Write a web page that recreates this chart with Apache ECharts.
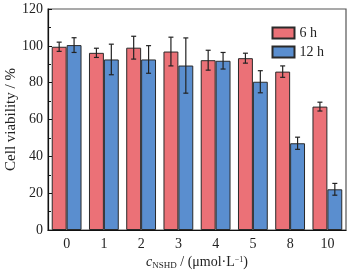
<!DOCTYPE html>
<html>
<head>
<meta charset="utf-8">
<style>
  html, body { margin: 0; padding: 0; background: #fff; }
  #main { width: 355px; height: 277px; }
</style>
<script src="https://cdn.jsdelivr.net/npm/echarts@6/dist/echarts.min.js"></script>
</head>
<body>
<div id="main"></div>
<script>
// concentrations (umol/L)
var categories = ["0", "1", "2", "3", "4", "5", "8", "10"];
// cell viability, %
var h6 = [99.5, 96.2, 99.0, 96.9, 92.2, 93.3, 86.0, 67.0];
var h6Err = [2.5, 2.5, 6.2, 7.8, 5.4, 2.7, 3.1, 2.4];
var h12 = [100.4, 92.6, 92.6, 89.3, 91.9, 80.5, 47.1, 22.1];
var h12Err = [4.0, 8.3, 7.5, 15.0, 4.5, 6.0, 3.3, 3.2];
var yTicks = [0, 20, 40, 60, 80, 100, 120];

var FONT = "Liberation Serif";
var chart = echarts.init(document.getElementById("main"));

function errData(vals, errs) {
  var out = [];
  for (var i = 0; i < vals.length; i++) {
    out.push([i, vals[i], errs[i]]);
  }
  return out;
}

// draws error bar; side = -1 left bar, +1 right bar
function errRender(side) {
  return function(params, api) {
    var idx = api.value(0);
    var v = api.value(1);
    var e = api.value(2);
    var band = api.size([1, 0])[0];
    var off = side * band * 0.2;
    var hi = api.coord([idx, v + e]);
    var lo = api.coord([idx, v - e]);
    var x = hi[0] + off;
    var cap = 2.5;
    var st = { stroke: "#222", lineWidth: 1.2 };
    return {
      type: "group",
      children: [
        { type: "line", shape: { x1: x, y1: hi[1], x2: x, y2: lo[1] }, style: st },
        { type: "line", shape: { x1: x - cap, y1: hi[1], x2: x + cap, y2: hi[1] }, style: st },
        { type: "line", shape: { x1: x - cap, y1: lo[1], x2: x + cap, y2: lo[1] }, style: st }
      ]
    };
  };
}

chart.setOption({
  animation: false,
  textStyle: { fontFamily: FONT },
  grid: {
    left: 48,
    right: 9,
    top: 9,
    bottom: 47,
    outerBoundsMode: "none",
    containLabel: false,
    show: true,
    borderColor: "#555",
    borderWidth: 1.2
  },
  legend: {
    data: ["6 h", "12 h"],
    orient: "vertical",
    right: 26,
    top: 21,
    icon: "rect",
    itemWidth: 22,
    itemHeight: 11,
    itemGap: 5,
    textStyle: { fontFamily: FONT, fontSize: 14, color: "#222" }
  },
  xAxis: {
    type: "category",
    data: categories,
    name: "{i|c}{sub|NSHD}{t| / (μmol·L}{sup|−1}{t|)}",
    nameLocation: "middle",
    nameGap: 25,
    nameMoveOverlap: false,
    nameTextStyle: {
      rich: {
        i: { fontFamily: FONT, fontStyle: "italic", fontSize: 14, color: "#222" },
        sub: { fontFamily: FONT, fontSize: 9, color: "#222", padding: [6, 0, 0, 0] },
        t: { fontFamily: FONT, fontSize: 14, color: "#222" },
        sup: { fontFamily: FONT, fontSize: 8, color: "#222", padding: [0, 0, 6, 0] }
      }
    },
    axisLine: { lineStyle: { color: "#111", width: 1.2 } },
    axisTick: { show: false },
    axisLabel: { fontFamily: FONT, fontSize: 14, color: "#222", margin: 7 }
  },
  yAxis: {
    type: "value",
    min: yTicks[0],
    max: yTicks[yTicks.length - 1],
    interval: 20,
    name: "Cell viability / %",
    nameLocation: "middle",
    nameGap: 29,
    nameMoveOverlap: false,
    nameTextStyle: { fontFamily: FONT, fontSize: 15, color: "#222" },
    axisLine: { show: true, lineStyle: { color: "#111", width: 1.2 } },
    axisTick: { show: true, inside: true, length: 4, lineStyle: { color: "#111" } },
    minorTick: { show: true, splitNumber: 2, length: 3, lineStyle: { color: "#111" } },
    splitLine: { show: false },
    axisLabel: { fontFamily: FONT, fontSize: 14, color: "#222", margin: 5 }
  },
  series: [
    {
      name: "6 h",
      type: "bar",
      data: h6,
      barGap: "0%",
      barCategoryGap: "20%",
      itemStyle: { color: "#EB7177", borderColor: "#2a2a2a", borderWidth: 1 }
    },
    {
      name: "12 h",
      type: "bar",
      data: h12,
      barGap: "0%",
      barCategoryGap: "20%",
      itemStyle: { color: "#5A8ECF", borderColor: "#2a2a2a", borderWidth: 1 }
    },
    {
      type: "custom",
      renderItem: errRender(-1),
      data: errData(h6, h6Err),
      z: 10
    },
    {
      type: "custom",
      renderItem: errRender(1),
      data: errData(h12, h12Err),
      z: 10
    }
  ]
});
</script>
</body>
</html>
